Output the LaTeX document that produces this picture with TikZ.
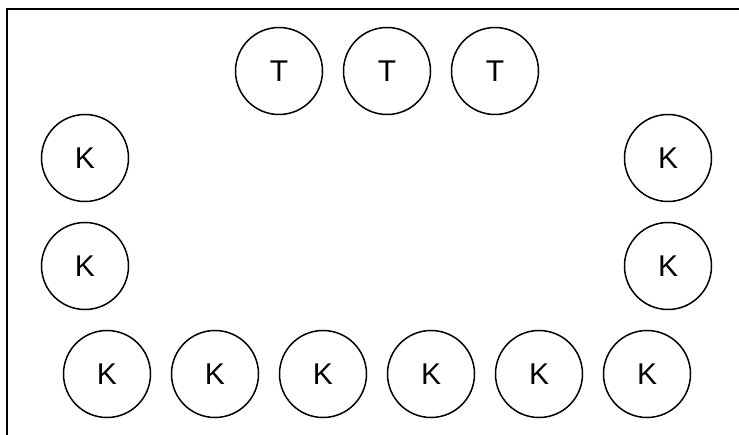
\documentclass[tikz,border=0pt]{standalone}
\usepackage{fontspec}
\setmainfont{Liberation Sans}
\usetikzlibrary{positioning}

\begin{document}
\begin{tikzpicture}[x=1pt, y=-1pt, node distance=19.5pt,
  seat/.style={draw, circle, line width=1.5pt, minimum size=87pt, inner sep=0pt,
    font=\fontsize{30}{36}\selectfont},
  frameline/.style={line width=2.5pt, line cap=rect}]
\useasboundingbox (0,0) rectangle (739,435);
% frame, cut off at the right and bottom
\coordinate (fbl) at (7,440);
\coordinate (ftl) at (7,9);
\coordinate (ftr) at (745,9);
\draw[frameline] (fbl) -- (ftl) -- (ftr);
% top row
\node[seat] (t1) at (279,71) {T};
\node[seat, right=of t1] (t2) {T};
\node[seat, right=of t2] (t3) {T};
% sides
\node[seat] (kl1) at (85,158) {K};
\node[seat, below=of kl1] (kl2) {K};
\node[seat] (kr1) at (668,158) {K};
\node[seat, below=of kr1] (kr2) {K};
% bottom row
\node[seat] (kb1) at (107,374) {K};
\node[seat, right=of kb1] (kb2) {K};
\node[seat, right=of kb2] (kb3) {K};
\node[seat, right=of kb3] (kb4) {K};
\node[seat, right=of kb4] (kb5) {K};
\node[seat, right=of kb5] (kb6) {K};
\end{tikzpicture}
\end{document}
